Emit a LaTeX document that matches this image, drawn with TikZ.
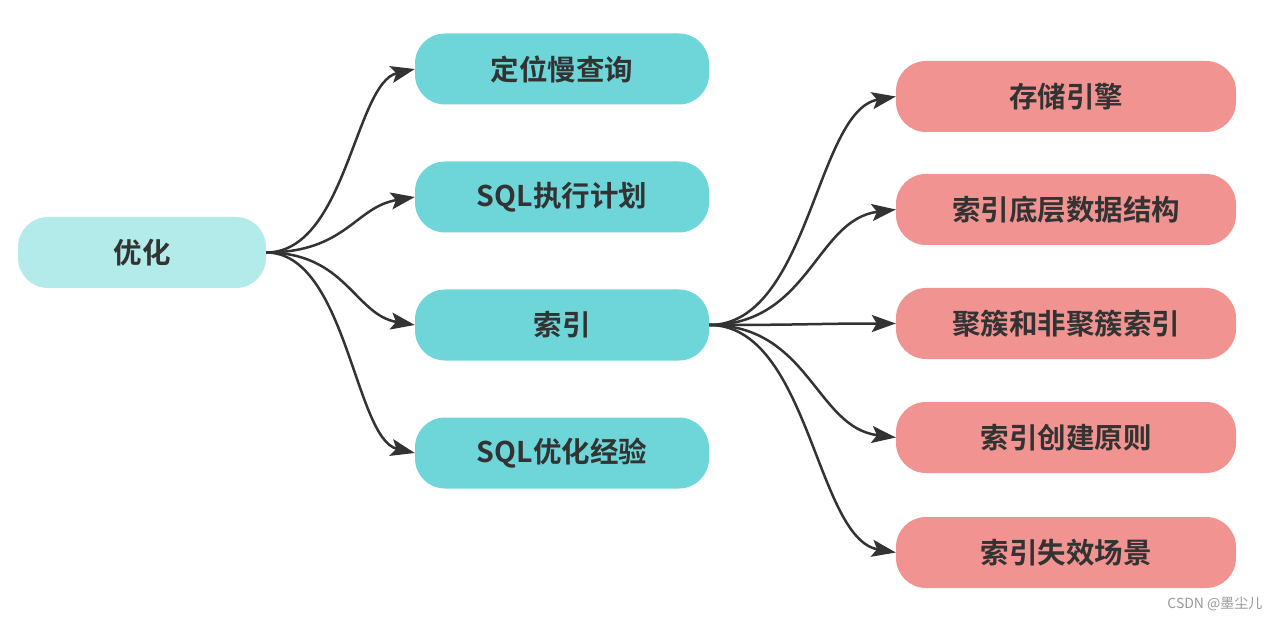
\documentclass[tikz,border=0pt]{standalone}
\usepackage{fontspec}
\newfontfamily\cjk{Noto Sans CJK SC}[BoldFont={Noto Sans CJK SC Bold}]
\usetikzlibrary{arrows.meta,calc}
\definecolor{rootc}{HTML}{B3EBEB}
\definecolor{tealc}{HTML}{6ED6D8}
\definecolor{pinkc}{HTML}{F19391}
\definecolor{txt}{HTML}{333333}
\definecolor{wm}{HTML}{999999}
\begin{document}
\begin{tikzpicture}[x=1pt,y=-1pt,
  box/.style={rounded corners=30pt, minimum height=71pt, inner sep=0pt, text=txt,
    font=\cjk\bfseries\fontsize{28.5pt}{32pt}\selectfont},
  rootbox/.style={box, fill=rootc, minimum width=248pt},
  tealbox/.style={box, fill=tealc, minimum width=294pt},
  pinkbox/.style={box, fill=pinkc, minimum width=340pt},
  conn/.style={draw=txt, line width=2.5pt, -{Stealth[length=24pt,width=17pt,inset=5pt]}}
]
\useasboundingbox (0,0) rectangle (1280,620);
\node[rootbox] (root) at (142,252.5) {优化};
\node[tealbox] (t1) at (562,69) {定位慢查询};
\node[tealbox] (t2) at (562,197) {SQL执行计划};
\node[tealbox] (t3) at (562,325) {索引};
\node[tealbox] (t4) at (562,453) {SQL优化经验};
\node[pinkbox] (p1) at (1066,96.5) {存储引擎};
\node[pinkbox] (p2) at (1066,209.5) {索引底层数据结构};
\node[pinkbox] (p3) at (1066,323.5) {聚簇和非聚簇索引};
\node[pinkbox] (p4) at (1066,437.5) {索引创建原则};
\node[pinkbox] (p5) at (1066,552.5) {索引失效场景};
\foreach \t/\d in {t1/14,t2/10,t3/-10,t4/-14}{
  \draw[conn] (root.east) .. controls ++(80,0) and ($(\t.west)+(-60,\d)$) .. (\t.west);
}
\foreach \p/\d in {p1/14,p2/10,p3/0,p4/-10,p5/-14}{
  \draw[conn] (t3.east) .. controls ++(100,0) and ($(\p.west)+(-80,\d)$) .. (\p.west);
}
\node[text=wm, font=\cjk\fontsize{14pt}{16pt}\selectfont, anchor=east] (wmk) at (1266,604) {CSDN @墨尘儿};
\end{tikzpicture}
\end{document}
